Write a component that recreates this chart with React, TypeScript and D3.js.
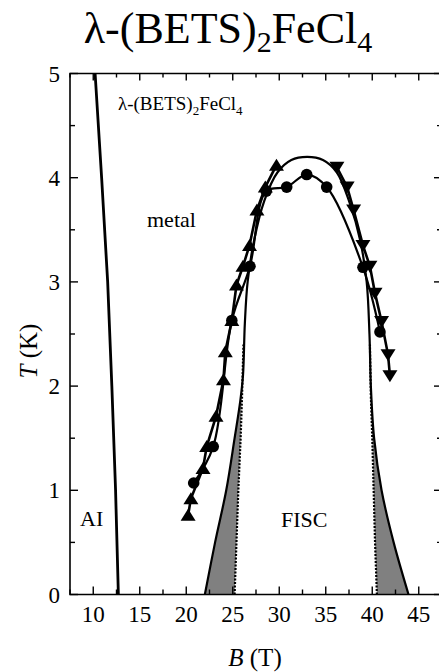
import React from "react";
import * as d3 from "d3";

// ---- data (B in tesla, T in kelvin) ----
const xTicksMajor = [10, 15, 20, 25, 30, 35, 40, 45];
const xTicksMinor = [7.5, 12.5, 17.5, 22.5, 27.5, 32.5, 37.5, 42.5, 47.5];
const yTicksMajor = [0, 1, 2, 3, 4, 5];
const yTicksMinor = [0.5, 1.5, 2.5, 3.5, 4.5];

const aiBoundary: [number, number][] = [
  [10.2, 5], [10.9, 4], [11.55, 3], [12.0, 2], [12.4, 1], [12.7, 0],
];

const triUp: [number, number][] = [
  [20.2, 0.76], [20.5, 0.92], [21.8, 1.21], [22.2, 1.42], [23.2, 1.71],
  [24.0, 2.06], [24.2, 2.33], [24.9, 2.63], [25.4, 2.97], [26.1, 3.15],
  [26.8, 3.35], [27.6, 3.69], [28.5, 3.91], [29.7, 4.12],
];

const circles: [number, number][] = [
  [20.8, 1.07], [22.9, 1.42], [24.9, 2.63], [26.85, 3.15], [28.6, 3.87],
  [30.8, 3.91], [32.95, 4.03], [35.1, 3.91], [39.0, 3.14], [40.83, 2.52],
];

const triDown: [number, number][] = [
  [36.2, 4.1], [37.3, 3.91], [38.0, 3.69], [39.0, 3.35], [39.75, 3.15],
  [40.3, 2.89], [41.0, 2.62], [41.7, 2.3], [41.9, 2.1],
];

const fiscBoundary: [number, number][] = [
  [22.0, 0], [23.1, 0.5], [24.3, 1.0], [25.2, 1.5], [25.8, 1.85], [26.1, 2.1],
  [26.3, 2.6], [26.6, 3.0], [27.3, 3.4], [28.4, 3.78], [29.8, 4.05],
  [31.3, 4.17], [33.0, 4.2], [34.7, 4.17], [36.2, 4.05], [37.6, 3.75],
  [38.7, 3.4], [39.4, 3.0], [39.7, 2.5], [39.85, 2.0], [40.2, 1.5],
  [41.0, 1.0], [42.3, 0.5], [43.9, 0],
];

const dottedLeft: [number, number][] = [
  [25.2, 0], [25.4, 0.5], [25.6, 1.0], [25.85, 1.5], [26.0, 1.9], [26.15, 2.4],
];
const dottedRight: [number, number][] = [
  [40.5, 0], [40.3, 0.5], [40.15, 1.0], [40.0, 1.5], [39.85, 1.9], [39.75, 2.4],
];

const shadeLeft: [number, number][] = [
  [22.0, 0], [23.1, 0.5], [24.3, 1.0], [25.2, 1.5], [25.8, 1.85],
  [25.95, 1.85], [25.85, 1.5], [25.6, 1.0], [25.4, 0.5], [25.2, 0],
];
const shadeRight: [number, number][] = [
  [43.9, 0], [42.3, 0.5], [41.0, 1.0], [40.2, 1.5], [39.95, 1.85],
  [39.88, 1.85], [40.0, 1.5], [40.15, 1.0], [40.3, 0.5], [40.5, 0],
];

const W = 439;
const H = 672;
const left = 70;
const right = 442;
const top = 73.5;
const bottom = 594.5;

const SERIF = "Liberation Serif";

export default function App() {
  const x = d3.scaleLinear().domain([7.5, 47.5]).range([left, right]);
  const y = d3.scaleLinear().domain([0, 5]).range([bottom, top]);
  const line = d3.line<[number, number]>().x((d) => x(d[0])).y((d) => y(d[1]));
  const smooth = d3
    .line<[number, number]>()
    .x((d) => x(d[0]))
    .y((d) => y(d[1]))
    .curve(d3.curveCatmullRom.alpha(0.5));

  const tri = (cx: number, cy: number, up: boolean, key: string) => {
    const s = 7.5;
    const h = 6.5;
    const d = up
      ? `M${cx},${cy - h}L${cx + s},${cy + h * 0.85}L${cx - s},${cy + h * 0.85}Z`
      : `M${cx},${cy + h}L${cx + s},${cy - h * 0.85}L${cx - s},${cy - h * 0.85}Z`;
    return <path key={key} d={d} fill="#000" />;
  };

  const ts = { fontFamily: SERIF };

  return (
    <svg
      width={W}
      height={H}
      style={{ position: "absolute", left: 0, top: 0, background: "#fff" }}
    >
      <rect x={0} y={0} width={W} height={H} fill="#fff" />
      {/* main title */}
      <text x={228} y={43} fontSize={44} textAnchor="middle" fill="#000" style={ts}>
        λ-(BETS)<tspan fontSize={30} dy={9}>2</tspan>
        <tspan dy={-9}>FeCl</tspan>
        <tspan fontSize={30} dy={9}>4</tspan>
      </text>

      {/* shading */}
      <path d={line(shadeLeft) + "Z"} fill="#808080" />
      <path d={line(shadeRight) + "Z"} fill="#808080" />

      {/* dotted lines */}
      <path d={line(dottedLeft) || ""} fill="none" stroke="#000" strokeWidth={2.2} strokeDasharray="2,1.5" />
      <path d={line(dottedRight) || ""} fill="none" stroke="#000" strokeWidth={2.2} strokeDasharray="2,1.5" />

      {/* FISC boundary */}
      <path d={smooth(fiscBoundary) || ""} fill="none" stroke="#000" strokeWidth={2.2} />

      {/* AI boundary */}
      <path d={line(aiBoundary) || ""} fill="none" stroke="#000" strokeWidth={2.8} />

      {/* data lines */}
      <path d={line(triUp) || ""} fill="none" stroke="#000" strokeWidth={2.6} />
      <path d={smooth(circles) || ""} fill="none" stroke="#000" strokeWidth={2.2} />
      <path d={line(triDown) || ""} fill="none" stroke="#000" strokeWidth={2.6} />

      {/* markers */}
      {triUp.map((d, i) => tri(x(d[0]), y(d[1]), true, "u" + i))}
      {triDown.map((d, i) => tri(x(d[0]), y(d[1]), false, "d" + i))}
      {circles.map((d, i) => (
        <circle key={"c" + i} cx={x(d[0])} cy={y(d[1])} r={5.8} fill="#000" />
      ))}

      {/* frame */}
      <path
        d={`M${left},${top}L${right},${top}L${right},${bottom}L${left},${bottom}Z`}
        fill="none"
        stroke="#000"
        strokeWidth={1.6}
      />

      {/* x ticks */}
      {xTicksMajor.map((t) => (
        <g key={"xm" + t}>
          <line x1={x(t)} x2={x(t)} y1={bottom} y2={bottom - 8} stroke="#000" strokeWidth={1.4} />
          <line x1={x(t)} x2={x(t)} y1={top} y2={top + 7} stroke="#000" strokeWidth={1.4} />
          <text x={x(t)} y={622} fontSize={23} textAnchor="middle" fill="#000" style={ts}>
            {t}
          </text>
        </g>
      ))}
      {xTicksMinor.map((t) => (
        <g key={"xn" + t}>
          <line x1={x(t)} x2={x(t)} y1={bottom} y2={bottom - 5} stroke="#000" strokeWidth={1.4} />
          <line x1={x(t)} x2={x(t)} y1={top} y2={top + 4} stroke="#000" strokeWidth={1.4} />
        </g>
      ))}

      {/* y ticks */}
      {yTicksMajor.map((t) => (
        <g key={"ym" + t}>
          <line x1={left} x2={left + 8} y1={y(t)} y2={y(t)} stroke="#000" strokeWidth={1.4} />
          <line x1={right} x2={right - 8} y1={y(t)} y2={y(t)} stroke="#000" strokeWidth={1.4} />
          <text x={60} y={y(t) + 8} fontSize={23} textAnchor="end" fill="#000" style={ts}>
            {t}
          </text>
        </g>
      ))}
      {yTicksMinor.map((t) => (
        <g key={"yn" + t}>
          <line x1={left} x2={left + 5} y1={y(t)} y2={y(t)} stroke="#000" strokeWidth={1.4} />
          <line x1={right} x2={right - 5} y1={y(t)} y2={y(t)} stroke="#000" strokeWidth={1.4} />
        </g>
      ))}

      {/* axis labels */}
      <text x={255} y={666} fontSize={25} textAnchor="middle" fill="#000" style={ts}>
        <tspan fontStyle="italic">B</tspan> (T)
      </text>
      <text
        transform="translate(37,351) rotate(-90)"
        fontSize={25}
        textAnchor="middle"
        fill="#000"
        style={ts}
      >
        <tspan fontStyle="italic">T</tspan> (K)
      </text>

      {/* in-plot labels */}
      <text x={118} y={110} fontSize={19} fill="#000" style={ts}>
        λ-(BETS)<tspan fontSize={13} dy={5}>2</tspan>
        <tspan dy={-5}>FeCl</tspan>
        <tspan fontSize={13} dy={5}>4</tspan>
      </text>
      <text x={147} y={227} fontSize={22} fill="#000" style={ts}>metal</text>
      <text x={80} y={526} fontSize={22} fill="#000" style={ts}>AI</text>
      <text x={281} y={527} fontSize={22} fill="#000" style={ts}>FISC</text>
    </svg>
  );
}
